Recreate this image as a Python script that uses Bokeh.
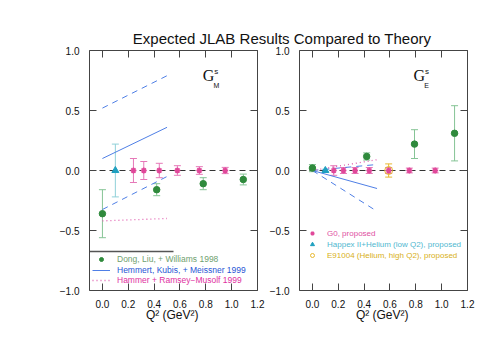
from bokeh.plotting import figure
from bokeh.models import (Range1d, Whisker, TeeHead, ColumnDataSource, Label, FixedTicker,
                          LinearAxis, CustomJSTickFormatter, Legend, LegendItem)
from bokeh.embed import file_html
from bokeh.resources import INLINE

# ---------------- data ----------------
TITLE = "Expected JLAB Results Compared to Theory"
X_LABEL = "Q\u00b2 (GeV\u00b2)"
x_ticks = [0.0, 0.2, 0.4, 0.6, 0.8, 1.0, 1.2]
y_ticks = [-1.0, -0.5, 0.0, 0.5, 1.0]
x_lo, x_hi = -0.1, 1.2
y_lo, y_hi = -1.0, 1.0
zero_line = [0.0, 0.0]

# G_M^s panel
gm_dlw_q2 = [0.0, 0.42, 0.78, 1.09]
gm_dlw_val = [-0.36, -0.16, -0.11, -0.075]
gm_dlw_err = [0.20, 0.05, 0.05, 0.045]

gm_happex_q2 = [0.10]
gm_happex_val = [0.0]
gm_happex_err = [0.22]

gm_g0_q2 = [0.24, 0.32, 0.44, 0.58, 0.75, 0.95]
gm_g0_val = [0.0, 0.0, 0.0, 0.0, 0.0, 0.0]
gm_g0_err = [0.10, 0.075, 0.06, 0.04, 0.032, 0.026]

gm_theory_q2 = [0.0, 0.5]
gm_hkm_central = [0.10, 0.36]
gm_hkm_upper = [0.52, 0.79]
gm_hkm_lower = [-0.325, -0.05]
gm_hrm = [-0.42, -0.40]

gm_rule_q2 = [-0.1, 0.55]
gm_rule_val = [-0.675, -0.675]

# G_E^s panel
ge_dlw_q2 = [0.0, 0.42, 0.79, 1.10]
ge_dlw_val = [0.02, 0.117, 0.22, 0.31]
ge_dlw_err = [0.03, 0.03, 0.12, 0.23]

ge_happex_q2 = [0.10]
ge_happex_val = [0.0]
ge_happex_err = [0.01]

ge_g0_q2 = [0.165, 0.24, 0.33, 0.44, 0.59, 0.75, 0.95]
ge_g0_val = [0.0, 0.0, 0.0, 0.0, 0.0, 0.0, 0.0]
ge_g0_err = [0.04, 0.025, 0.025, 0.025, 0.025, 0.02, 0.02]

ge_e91004_q2 = [0.59]
ge_e91004_val = [0.0]
ge_e91004_err = [0.055]

ge_theory_q2 = [0.0, 0.5]
ge_hkm_central = [0.0, -0.15]
ge_hkm_upper = [0.0, 0.05]
ge_hkm_lower = [0.0, -0.34]
ge_hrm = [0.0, 0.09]

# ---------------- style / layout ----------------
FONT = "Liberation Sans"
SERIF = "Liberation Serif"
FRAME = "#444444"
TEXT = "#111111"
GREEN = "#2f8a3c"
GREEN_ERR = "#86c496"
CYAN = "#1fa0c0"
CYAN_ERR = "#8fd0d8"
MAGENTA = "#e0489a"
MAGENTA_ERR = "#e678b8"
ORANGE = "#e8b830"
BLUE = "#4f7fe6"
DOTMAG = "#e060b0"

W, H = 490, 355        # canvas size (px)
LEFT0 = 89             # px: left edge of the first panel
TOP0 = 50              # px: top edge of the panels
PANEL_W = 168          # px width of each panel
PANEL_H = 240          # px height of each panel
GAP_W = 42             # px between the two panels

px_x = PANEL_W / (x_hi - x_lo)
px_y = PANEL_H / (y_hi - y_lo)
l_start = x_lo - LEFT0 / px_x
r_start = x_lo - (LEFT0 + PANEL_W + GAP_W) / px_x
y_start = y_lo - (H - TOP0 - PANEL_H) / px_y

num_fmt = "return tick.toFixed(1).replace('-', '\u2212');"

p = figure(width=W, height=H, output_backend="svg", toolbar_location=None,
           title=None, x_range=Range1d(l_start, l_start + W / px_x),
           y_range=Range1d(y_start, y_start + H / px_y),
           x_axis_location=None, y_axis_location=None, min_border=0)
p.extra_x_ranges = {"R": Range1d(r_start, r_start + W / px_x)}
p.grid.grid_line_color = None
p.outline_line_color = None
p.background_fill_color = "white"
p.border_fill_color = "white"


def axes(rname):
    common = dict(x_range_name=rname, major_tick_in=7, major_tick_out=0,
                  minor_tick_line_color=None, axis_line_color=FRAME,
                  major_tick_line_color=FRAME, major_label_text_font=FONT,
                  major_label_text_font_size="10px", major_label_text_color=TEXT)
    empty = dict(formatter=CustomJSTickFormatter(code="return '';"),
                 major_label_standoff=0)
    b = LinearAxis(ticker=FixedTicker(ticks=x_ticks),
                   formatter=CustomJSTickFormatter(code=num_fmt),
                   fixed_location=y_lo, bounds=(x_lo, x_hi), major_label_standoff=9,
                   **common)
    p.add_layout(b, "below")
    t = LinearAxis(ticker=FixedTicker(ticks=x_ticks), fixed_location=y_hi,
                   bounds=(x_lo, x_hi), **empty, **common)
    p.add_layout(t, "above")
    l = LinearAxis(ticker=FixedTicker(ticks=y_ticks),
                   formatter=CustomJSTickFormatter(code=num_fmt),
                   fixed_location=x_lo, bounds=(y_lo, y_hi), major_label_standoff=10,
                   **common)
    p.add_layout(l, "left")
    r = LinearAxis(ticker=FixedTicker(ticks=y_ticks), fixed_location=x_hi,
                   bounds=(y_lo, y_hi), **empty, **common)
    p.add_layout(r, "right")
    p.line([x_lo, x_hi], zero_line, x_range_name=rname, line_color="#333333",
           line_dash="6 4", line_width=1)
    p.add_layout(Label(x=0.54, y=-1.2, x_range_name=rname, text=X_LABEL,
                       text_align="center", text_baseline="alphabetic", text_font=FONT,
                       text_font_size="12px", text_color=TEXT))


def errbars(q2, val, err, color, rname, size=7):
    src = ColumnDataSource(dict(x=q2, upper=[v + e for v, e in zip(val, err)],
                                lower=[v - e for v, e in zip(val, err)]))
    w = Whisker(base="x", upper="upper", lower="lower", source=src, dimension="height",
                x_range_name=rname, line_color=color, line_width=1,
                upper_head=TeeHead(size=size, line_color=color, line_width=1),
                lower_head=TeeHead(size=size, line_color=color, line_width=1))
    p.add_layout(w)


def legend(label, r, loc, color, gw, standoff, fs):
    lg = Legend(items=[LegendItem(label=label, renderers=[r])], location=loc,
                border_line_color=None, background_fill_alpha=0, padding=0, margin=0,
                spacing=0, glyph_height=10, glyph_width=gw, label_height=10,
                label_standoff=standoff, label_text_font=FONT,
                label_text_font_size=fs, label_text_color=color)
    p.add_layout(lg)


def panel_label(rname, x, main, sub):
    p.add_layout(Label(x=x, y=0.72, x_range_name=rname, text=main, text_font=SERIF,
                       text_font_size="16px", text_color=TEXT))
    p.add_layout(Label(x=x + 0.088, y=0.785, x_range_name=rname, text="s",
                       text_font=FONT, text_font_size="8px", text_color=TEXT))
    p.add_layout(Label(x=x + 0.083, y=0.68, x_range_name=rname, text=sub,
                       text_font=FONT, text_font_size="7px", text_color=TEXT))


# title
p.add_layout(Label(x=1.39, y=1.097, text=TITLE, text_align="center",
                   text_baseline="alphabetic", text_font=FONT, text_font_size="15px",
                   text_color=TEXT))

# ---------------- G_M^s (left) ----------------
axes("default")
p.line(gm_rule_q2, gm_rule_val, line_color="#555555", line_width=1.5)
r_hkm1 = p.line(gm_theory_q2, gm_hkm_central, line_color=BLUE, line_width=1)
p.line(gm_theory_q2, gm_hkm_upper, line_color=BLUE, line_width=1, line_dash="6 5")
p.line(gm_theory_q2, gm_hkm_lower, line_color=BLUE, line_width=1, line_dash="6 5")
r_hrm1 = p.line(gm_theory_q2, gm_hrm, line_color=DOTMAG, line_width=1.3, line_dash="1 3")
errbars(gm_dlw_q2, gm_dlw_val, gm_dlw_err, GREEN_ERR, "default")
errbars(gm_happex_q2, gm_happex_val, gm_happex_err, CYAN_ERR, "default")
errbars(gm_g0_q2, gm_g0_val, gm_g0_err, MAGENTA_ERR, "default")
r_dlw1 = p.scatter(gm_dlw_q2, gm_dlw_val, marker="circle", size=6.5, fill_color=GREEN,
                   line_color=GREEN)
p.scatter(gm_happex_q2, gm_happex_val, marker="triangle", size=7, fill_color=CYAN,
          line_color=CYAN)
p.scatter(gm_g0_q2, gm_g0_val, marker="asterisk", size=6, line_color=MAGENTA,
          line_width=1.5)
legend("Dong, Liu, + Williams 1998", r_dlw1, (92, 91), "#6f9f6f", 18, 7, "8.5px")
legend("Hemmert, Kubis, + Meissner 1999", r_hkm1, (92, 80), "#1f55d5", 18, 7, "8.5px")
legend("Hammer + Ramsey\u2212Musolf 1999", r_hrm1, (92, 70), "#e030a0", 18, 7, "8.5px")
panel_label("default", 0.777, "G", "M")

# ---------------- G_E^s (right) ----------------
axes("R")
p.line(ge_theory_q2, ge_hkm_central, x_range_name="R", line_color=BLUE, line_width=1)
p.line(ge_theory_q2, ge_hkm_upper, x_range_name="R", line_color=BLUE, line_width=1,
       line_dash="6 5")
p.line(ge_theory_q2, ge_hkm_lower, x_range_name="R", line_color=BLUE, line_width=1,
       line_dash="6 5")
p.line(ge_theory_q2, ge_hrm, x_range_name="R", line_color=DOTMAG, line_width=1.3,
       line_dash="1 3")
errbars(ge_dlw_q2, ge_dlw_val, ge_dlw_err, GREEN_ERR, "R")
errbars(ge_happex_q2, ge_happex_val, ge_happex_err, CYAN_ERR, "R")
errbars(ge_g0_q2, ge_g0_val, ge_g0_err, MAGENTA_ERR, "R")
errbars(ge_e91004_q2, ge_e91004_val, ge_e91004_err, ORANGE, "R")
p.scatter(ge_dlw_q2, ge_dlw_val, x_range_name="R", marker="circle", size=6.5,
          fill_color=GREEN, line_color=GREEN)
r_hap2 = p.scatter(ge_happex_q2, ge_happex_val, x_range_name="R", marker="triangle",
                   size=7, fill_color=CYAN, line_color=CYAN)
r_g02 = p.scatter(ge_g0_q2, ge_g0_val, x_range_name="R", marker="asterisk", size=6,
                  line_color=MAGENTA, line_width=1.5)
r_e91 = p.scatter(ge_e91004_q2, ge_e91004_val, x_range_name="R", marker="circle",
                  size=8, fill_color=None, line_color=ORANGE, line_width=1)
legend("G0, proposed", r_g02, (305, 117), "#e0509f", 14, 8, "8px")
legend("Happex II+Helium (low Q2), proposed", r_hap2, (305, 106), "#50b8d0", 14, 8, "8px")
legend("E91004 (Helium, high Q2), proposed", r_e91, (305, 95), "#d8b018", 14, 8, "8px")
panel_label("R", 0.783, "G", "E")

open("out.html", "w").write(file_html(p, INLINE))
